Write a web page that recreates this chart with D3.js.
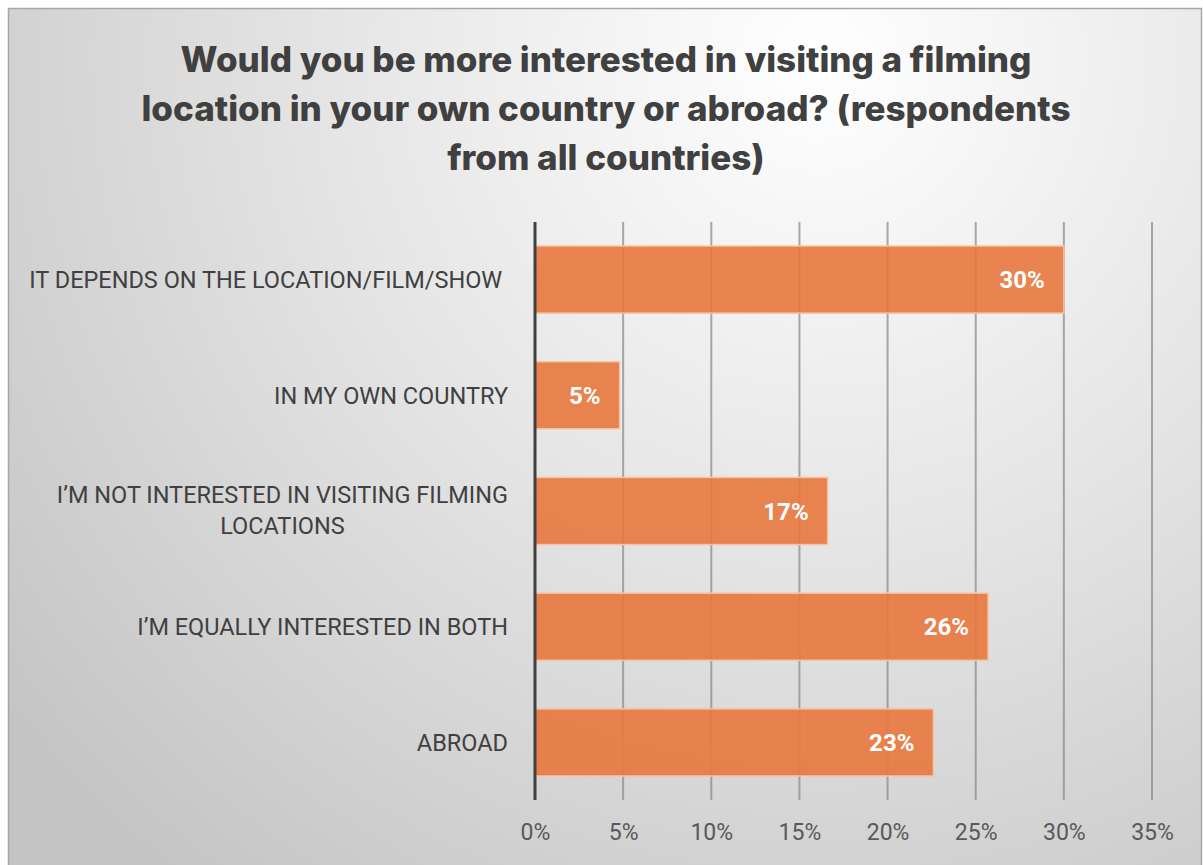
<!DOCTYPE html>
<html>
<head>
<meta charset="utf-8">
<script src="https://cdn.jsdelivr.net/npm/d3@7"></script>
<style>
  html, body { margin: 0; padding: 0; background: #ffffff; }
  svg { display: block; }
  .cat { white-space: pre; }
</style>
</head>
<body>
<svg id="chart" width="1203" height="865"></svg>
<script>
// Survey answers, top to bottom
const categories = [
  "IT DEPENDS ON THE LOCATION/FILM/SHOW ",
  "IN MY OWN COUNTRY",
  "I\u2019M NOT INTERESTED IN VISITING FILMING LOCATIONS",
  "I\u2019M EQUALLY INTERESTED IN BOTH",
  "ABROAD"
];
// Share of respondents (%)
const shares = [30.0, 4.8, 16.6, 25.7, 22.6];
// Value axis ticks (%)
const tickValues = [0, 5, 10, 15, 20, 25, 30, 35];

const titleLines = [
  "Would you be more interested in visiting a filming",
  "location in your own country or abroad? (respondents",
  "from all countries)"
];

const W = 1203, H = 865;
const svg = d3.select("#chart");

// Background panel with a soft radial shading
const defs = svg.append("defs");
const grad = defs.append("radialGradient")
  .attr("id", "bg")
  .attr("gradientUnits", "userSpaceOnUse")
  .attr("cx", 820).attr("cy", 60).attr("r", 1050);
grad.append("stop").attr("offset", "0%").attr("stop-color", "#ffffff");
grad.append("stop").attr("offset", "45%").attr("stop-color", "#e6e6e6");
grad.append("stop").attr("offset", "100%").attr("stop-color", "#c4c4c4");

svg.append("rect")
  .attr("x", 8.5).attr("y", 8.5)
  .attr("width", W - 10).attr("height", H)
  .attr("fill", "url(#bg)")
  .attr("stroke", "#a6a6a6").attr("stroke-width", 1.5);

// Title
const title = svg.append("text")
  .attr("text-anchor", "middle")
  .attr("font-family", "Inter, 'Open Sans', sans-serif")
  .attr("font-weight", 800)
  .attr("font-size", 35)
  .attr("fill", "#404040");
titleLines.forEach((t, i) => {
  title.append("tspan").attr("x", 606).attr("y", 72 + i * 49).text(t);
});

// Plot geometry
const x0 = 535, x1 = 1152;
const yTop = 222, yBottom = 800;
const x = d3.scaleLinear().domain([0, 35]).range([x0, x1]);
const y = d3.scaleBand().domain(categories).range([246, 776]).paddingInner(0.42).paddingOuter(0);

// Vertical gridlines (extending down as tick marks)
svg.append("g").selectAll("line")
  .data(tickValues.filter(d => d > 0))
  .join("line")
  .attr("x1", d => x(d)).attr("x2", d => x(d))
  .attr("y1", yTop).attr("y2", yBottom)
  .attr("stroke", "#8c8c8c").attr("stroke-opacity", 0.75).attr("stroke-width", 2);

// Bars
svg.append("g").selectAll("rect")
  .data(shares)
  .join("rect")
  .attr("x", x(0))
  .attr("y", (d, i) => y(categories[i]))
  .attr("width", d => x(d) - x(0))
  .attr("height", y.bandwidth())
  .attr("fill", "#e8773e").attr("fill-opacity", 0.9)
  .attr("stroke", "#f6c4a4").attr("stroke-width", 1.5);

// Value labels inside bar ends
svg.append("g").selectAll("text")
  .data(shares)
  .join("text")
  .attr("x", d => x(d) - 19)
  .attr("y", (d, i) => y(categories[i]) + y.bandwidth() / 2)
  .attr("dy", "0.36em")
  .attr("text-anchor", "end")
  .attr("font-family", "Roboto, 'Open Sans', sans-serif")
  .attr("font-weight", 700)
  .attr("font-size", 24)
  .attr("fill", "#ffffff")
  .text(d => Math.round(d) + "%");

// Zero axis line
svg.append("line")
  .attr("x1", x(0)).attr("x2", x(0))
  .attr("y1", yTop).attr("y2", yBottom)
  .attr("stroke", "#404040").attr("stroke-width", 3);

// Bottom tick labels
const xAxis = d3.axisBottom(x).tickValues(tickValues).tickFormat(d => d + "%").tickSize(0).tickPadding(0);
const gx = svg.append("g").attr("transform", `translate(0, 824)`).call(xAxis);
gx.select(".domain").remove();
gx.selectAll("text")
  .attr("font-family", "Roboto, 'Open Sans', sans-serif")
  .attr("font-size", 23)
  .attr("fill", "#595959");

// Category labels (the long one wraps onto two lines)
const wrapAt = {
  "I\u2019M NOT INTERESTED IN VISITING FILMING LOCATIONS": ["I\u2019M NOT INTERESTED IN VISITING FILMING", "LOCATIONS"]
};
const catG = svg.append("g")
  .attr("font-family", "Roboto, 'Open Sans', sans-serif")
  .attr("font-size", 23.5)
  .attr("fill", "#404040");
categories.forEach(c => {
  const lines = wrapAt[c];
  const cy = y(c) + y.bandwidth() / 2;
  if (!lines) {
    catG.append("text").attr("class", "cat")
      .attr("x", 508).attr("y", cy).attr("dy", "0.36em")
      .attr("text-anchor", "end").text(c);
  } else {
    const first = catG.append("text").attr("class", "cat")
      .attr("x", 508).attr("y", cy - 16).attr("dy", "0.36em")
      .attr("text-anchor", "end").text(lines[0]);
    const bb = first.node().getBBox();
    catG.append("text").attr("class", "cat")
      .attr("x", bb.x + bb.width / 2).attr("y", cy + 15).attr("dy", "0.36em")
      .attr("text-anchor", "middle").text(lines[1]);
  }
});
</script>
</body>
</html>
